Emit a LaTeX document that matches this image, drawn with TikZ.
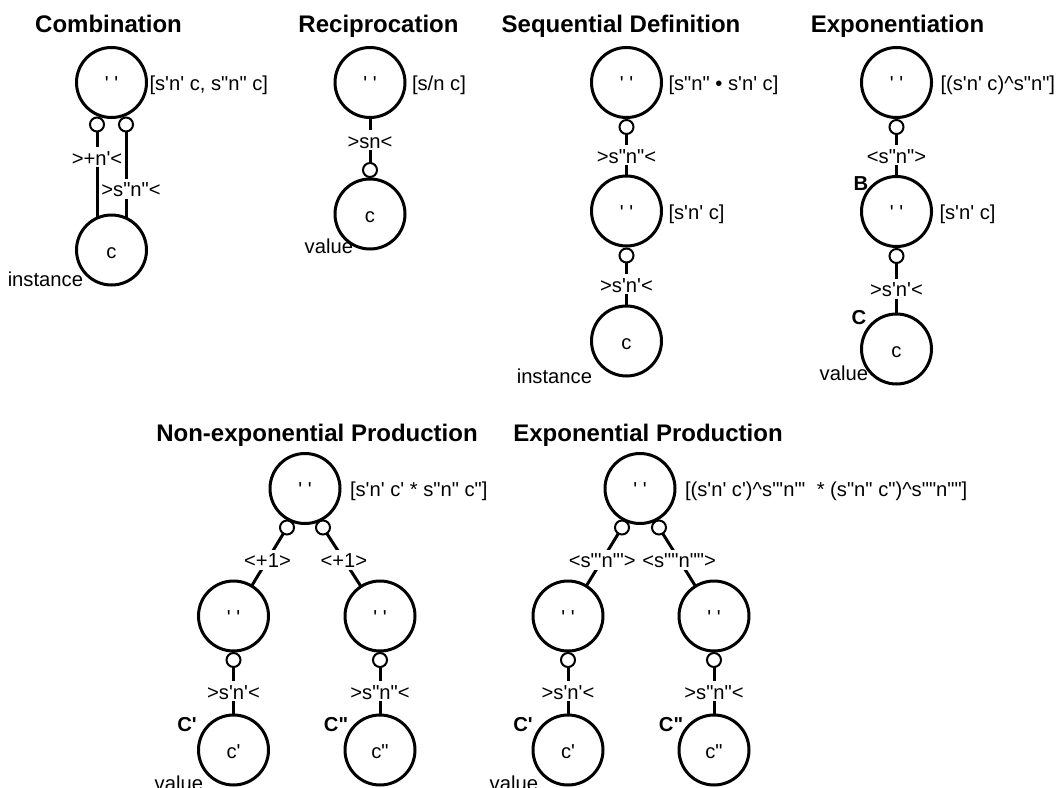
\documentclass[tikz,border=0pt]{standalone}
\usepackage{fontspec}
\newfontfamily\lab{Liberation Sans}
\begin{document}
\begin{tikzpicture}[x=1pt,y=1pt,
  every node/.style={inner sep=0pt, outer sep=0pt},
  txt/.style={font=\lab\fontsize{20.2}{22}\selectfont, text height=16pt, text depth=0pt},
  hd/.style={font=\lab\bfseries\fontsize{24}{26}\selectfont, anchor=base},
  big/.style={circle, draw, line width=3pt, minimum size=70pt, txt},
  port/.style={circle, draw, line width=2pt, minimum size=14pt, fill=white},
  wire/.style={line width=3pt},
  onwire/.style={txt, fill=white, inner sep=2pt},
  side/.style={txt, anchor=west},
  tag/.style={txt, anchor=base east},
  boldtag/.style={font=\lab\bfseries\fontsize{20.2}{22}\selectfont}
]
\useasboundingbox (0,0) rectangle (1060,-787);
\clip (0,0) rectangle (1060,-787);
\fill[white] (0,0) rectangle (1060,-787);

% ---------- Combination
\node[hd] (h1) at (108.5,-32) {Combination};
\node[big] (A1) at (111.5,-82.5) {' '};
\node[side, xshift=3pt] (A1s) at (A1.east) {[s'n' c, s"n" c]};
\node[big] (A2) at (111.5,-250) {c};
\node[port] (A1p) at (97,-124.5) {};
\node[port] (A1q) at (126,-124.5) {};
\draw[wire] (A1p.south) -- node[onwire,pos=0.3] (A1l) {>+n'<} (A1p.south |- A2.114);
\draw[wire] (A1q.south) -- node[onwire,pos=0.66,xshift=5pt] (A1m) {>s"n"<} (A1q.south |- A2.66);
\node[tag] (A2t) at ([shift={(-28.5,-36.5)}]A2.center) {instance};

% ---------- Reciprocation
\node[hd] (h2) at (378.5,-32) {Reciprocation};
\node[big] (R1) at (370,-82.5) {' '};
\node[side, xshift=7pt] (R1s) at (R1.east) {[s/n c]};
\node[big] (R2) at (370,-214) {c};
\node[port] (R2p) at (370,-170) {};
\draw[wire] (R1) -- node[onwire] (R1l) {>sn<} (R2p);
\node[tag] (R2t) at ([shift={(-17,-39)}]R2.center) {value};

% ---------- Sequential Definition
\node[hd] (h3) at (621,-32) {Sequential Definition};
\node[big] (S1) at (626.5,-82.5) {' '};
\node[side, xshift=7pt] (S1s) at (S1.east) {[s"n" • s'n' c]};
\node[port] (S1p) at (626.5,-127) {};
\node[big] (S2) at (626.5,-211) {' '};
\node[side, xshift=7pt] (S2s) at (S2.east) {[s'n' c]};
\node[port] (S2p) at (626.5,-255.5) {};
\node[big] (S3) at (626.5,-341) {c};
\draw[wire] (S1p) -- node[onwire] (S1l) {>s"n"<} (S2);
\draw[wire] (S2p) -- node[onwire] (S2l) {>s'n'<} (S3);
\node[tag] (S3t) at ([shift={(-34.5,-42)}]S3.center) {instance};

% ---------- Exponentiation
\node[hd] (h4) at (897.5,-32) {Exponentiation};
\node[big] (E1) at (896.5,-82.5) {' '};
\node[side, xshift=9pt] (E1s) at (E1.east) {[(s'n' c)\textasciicircum s"n"]};
\node[port] (E1p) at (896.5,-127) {};
\node[big] (E2) at (896.5,-211.5) {' '};
\node[side, xshift=8pt] (E2s) at (E2.east) {[s'n' c]};
\node[port] (E2p) at (896.5,-256) {};
\node[big] (E3) at (896.5,-349) {c};
\draw[wire] (E1p) -- node[onwire] (E1l) {<s"n">} (E2);
\draw[wire] (E2p) -- node[onwire] (E2l) {>s'n'<} (E3);
\node[boldtag] (E2m) at ([shift={(-35.5,27.5)}]E2.center) {B};
\node[boldtag] (E3m) at ([shift={(-37.5,31)}]E3.center) {C};
\node[tag] (E3t) at ([shift={(-28.5,-31)}]E3.center) {value};

% ---------- Non-exponential Production
\node[hd] (h5) at (317,-441) {Non-exponential Production};
\node[big] (N1) at (305,-488.5) {' '};
\node[side, xshift=10pt] (N1s) at (N1.east) {[s'n' c' * s"n" c"]};
\node[port] (N1p) at (287,-527.5) {};
\node[port] (N1q) at (323,-527.5) {};
\node[big] (N2) at (233.5,-616) {' '};
\node[big] (N3) at (380,-616) {' '};
\draw[wire] (N1p) -- node[onwire] (N1l) {<+1>} (N2);
\draw[wire] (N1q) -- node[onwire] (N1m) {<+1>} (N3);
\node[port] (N2p) at (233.5,-660) {};
\node[port] (N3p) at (380,-660) {};
\node[big] (N4) at (233.5,-750) {c'};
\node[big] (N5) at (380,-750) {c"};
\draw[wire] (N2p) -- node[onwire] (N2l) {>s'n'<} (N4);
\draw[wire] (N3p) -- node[onwire] (N3l) {>s"n"<} (N5);
\node[boldtag] (N4m) at ([shift={(-46.5,25)}]N4.center) {C'};
\node[boldtag] (N5m) at ([shift={(-44,25)}]N5.center) {C"};
\node[tag] (N4t) at ([shift={(-30.5,-40)}]N4.center) {value};

% ---------- Exponential Production
\node[hd] (h6) at (648,-441) {Exponential Production};
\node[big] (X1) at (640,-488.5) {' '};
\node[side, xshift=10pt] (X1s) at (X1.east) {[(s'n' c')\textasciicircum s"'n"'\ \ * (s"n" c")\textasciicircum s""n""]};
\node[port] (X1p) at (622,-527.5) {};
\node[port] (X1q) at (659,-527.5) {};
\node[big] (X2) at (568,-616) {' '};
\node[big] (X3) at (714,-616) {' '};
\draw[wire] (X1p) -- node[onwire] (X1l) {<s"'n"'>} (X2);
\draw[wire] (X1q) -- node[onwire] (X1m) {<s""n"">} (X3);
\node[port] (X2p) at (568,-660) {};
\node[port] (X3p) at (714,-660) {};
\node[big] (X4) at (568,-750) {c'};
\node[big] (X5) at (714,-750) {c"};
\draw[wire] (X2p) -- node[onwire] (X2l) {>s'n'<} (X4);
\draw[wire] (X3p) -- node[onwire] (X3l) {>s"n"<} (X5);
\node[boldtag] (X4m) at ([shift={(-45,25)}]X4.center) {C'};
\node[boldtag] (X5m) at ([shift={(-43,25)}]X5.center) {C"};
\node[tag] (X4t) at ([shift={(-30,-40)}]X4.center) {value};
\end{tikzpicture}
\end{document}
